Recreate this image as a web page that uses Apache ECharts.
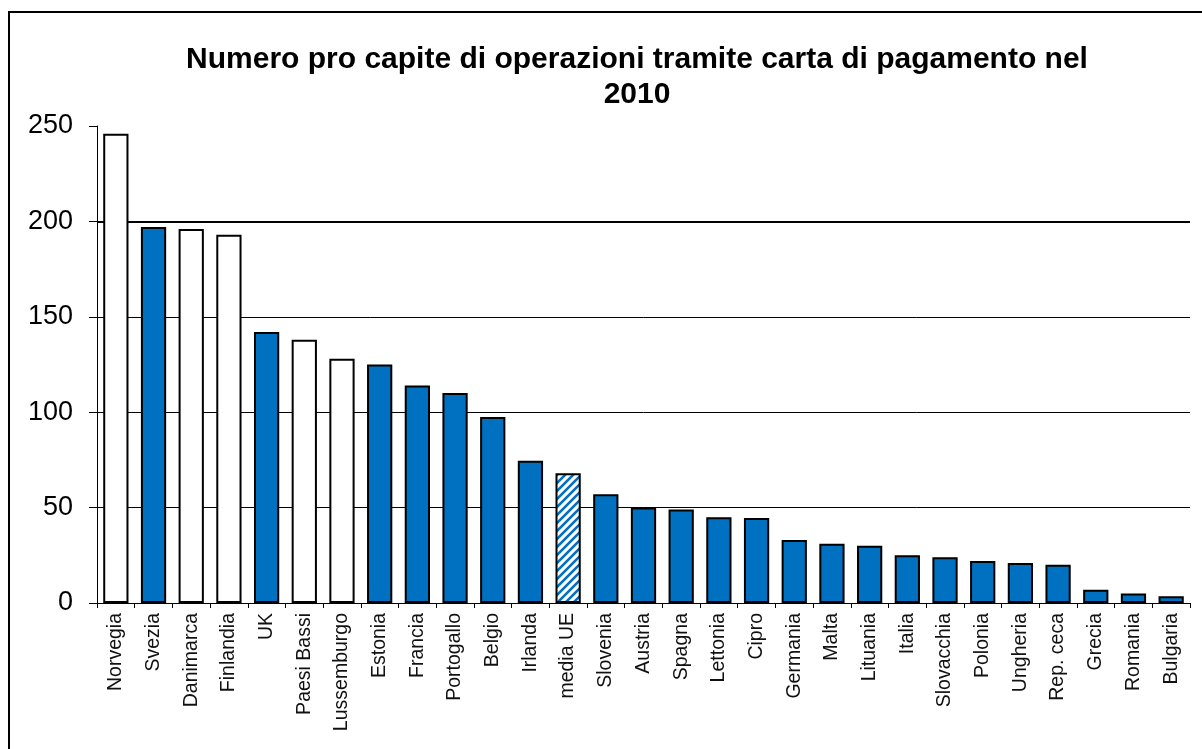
<!DOCTYPE html>
<html>
<head>
<meta charset="utf-8">
<script src="https://cdn.jsdelivr.net/npm/echarts@6/dist/echarts.min.js"></script>
<style>
html,body{margin:0;padding:0;background:#fff;}
#chart{width:1202px;height:749px;}
</style>
</head>
<body>
<div id="chart"></div>
<script>
// ---- data ----
const categories = ['Norvegia','Svezia','Danimarca','Finlandia','UK','Paesi Bassi','Lussemburgo','Estonia','Francia','Portogallo','Belgio','Irlanda','media UE','Slovenia','Austria','Spagna','Lettonia','Cipro','Germania','Malta','Lituania','Italia','Slovacchia','Polonia','Ungheria','Rep. ceca','Grecia','Romania','Bulgaria'];
const values = [246,197,196,193,142,138,128,125,114,110,97.5,74.5,68,57,50,49,45,44.5,33,31,30,25,24,22,21,20,7,5,3.5];
// fill kind per bar: b = blue, w = white, h = hatched (EU average)
const fillKind = ['w','b','w','w','b','w','w','b','b','b','b','b','h','b','b','b','b','b','b','b','b','b','b','b','b','b','b','b','b'];
const yTicks = [0,50,100,150,200,250];
const titleText = 'Numero pro capite di operazioni tramite carta di pagamento nel\n2010';
const refLine = 200;

// ---- styles ----
const BLUE = '#0070C0';
function hatchPattern(){
  const c = document.createElement('canvas');
  c.width = 8; c.height = 8;
  const g = c.getContext('2d');
  g.fillStyle = '#fff'; g.fillRect(0,0,8,8);
  g.strokeStyle = BLUE; g.lineWidth = 2.6;
  g.beginPath();
  g.moveTo(-2,10); g.lineTo(10,-2);
  g.moveTo(-6,6); g.lineTo(6,-6);
  g.moveTo(2,14); g.lineTo(14,2);
  g.stroke();
  return {image: c, repeat: 'repeat'};
}
const hatch = hatchPattern();

const barData = values.map((v,i)=>({
  value: v,
  itemStyle: {
    color: fillKind[i]==='b' ? BLUE : (fillKind[i]==='w' ? '#fff' : hatch)
  }
}));

const chart = echarts.init(document.getElementById('chart'), null, {renderer:'canvas'});
chart.setOption({
  animation: false,
  backgroundColor: '#fff',
  textStyle: {fontFamily: '"Liberation Sans", Arial, sans-serif'},
  title: {
    text: titleText,
    left: 637,
    top: 42,
    textAlign: 'center',
    padding: 0,
    textStyle: {fontSize: 30, fontWeight: 'bold', color: '#000', lineHeight: 35, fontFamily: '"Liberation Sans", Arial, sans-serif'}
  },
  graphic: [{
    type: 'rect', silent: true, z: -1,
    shape: {x: 9, y: 12, width: 1400, height: 900},
    style: {fill: null, stroke: '#000', lineWidth: 2}
  }],
  grid: {left: 97, right: 12, top: 126, bottom: 146, containLabel: false},
  xAxis: {
    type: 'category',
    data: categories,
    axisLine: {show: true, lineStyle: {color: '#000', width: 1}},
    axisTick: {show: true, length: 5, alignWithLabel: false, lineStyle: {color: '#000'}},
    axisLabel: {rotate: 90, fontSize: 19.5, color: '#111', margin: 10, interval: 0}
  },
  yAxis: {
    type: 'value',
    min: 0, max: 250, interval: 50,
    axisLine: {show: true, lineStyle: {color: '#000', width: 1}},
    axisTick: {show: true, length: 8, inside: false, lineStyle: {color: '#000'}},
    axisLabel: {fontSize: 27, color: '#000', margin: 24,
      formatter: v => yTicks.indexOf(v) >= 0 ? String(v) : ''},
    splitLine: {show: true, lineStyle: {color: ['#000','#000','#000','#000','transparent','transparent'], width: 1}}
  },
  series: [{
    type: 'bar',
    data: barData,
    barCategoryGap: '33%',
    itemStyle: {borderColor: '#000', borderWidth: 2},
    markLine: {
      silent: true, symbol: 'none', z: 1,
      label: {show: false},
      lineStyle: {color: '#000', width: 2, type: 'solid'},
      data: [{yAxis: refLine}]
    }
  }]
});
</script>
</body>
</html>
